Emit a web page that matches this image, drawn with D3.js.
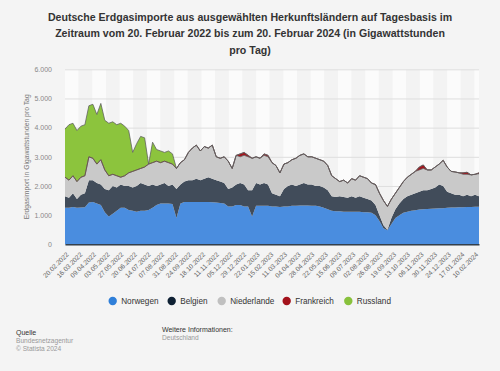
<!DOCTYPE html>
<html><head><meta charset="utf-8">
<script src="https://cdn.jsdelivr.net/npm/d3@7"></script>
<style>
body{margin:0;background:#f4f4f4;}
svg{display:block;font-family:"Liberation Sans",Arial,Helvetica,sans-serif;}
</style>
</head><body>
<svg id="chart" width="500" height="371"></svg>
<script>
// ---------- data ----------
const titleLines = [
  "Deutsche Erdgasimporte aus ausgewählten Herkunftsländern auf Tagesbasis im",
  "Zeitraum vom 20. Februar 2022 bis zum 20. Februar 2024 (in Gigawattstunden",
  "pro Tag)"
];
const seriesNames = ["Norwegen", "Belgien", "Niederlande", "Frankreich", "Russland"];
const startDate = [2022, 1, 20];      // 20.02.2022, weekly samples
const endDate = [2024, 1, 19];
const sampleStepDays = 7;
const tickStepDays = 24;
const yTicks = [0, 1000, 2000, 3000, 4000, 5000, 6000];

const norwegen = [1250,1250,1280,1250,1260,1270,1430,1450,1400,1350,1100,950,1050,1150,1250,1250,1180,1150,1120,1150,1150,1180,1250,1350,1400,1400,1400,1380,900,1400,1450,1450,1450,1450,1450,1450,1450,1440,1430,1420,1400,1300,1300,1350,1350,1300,1300,950,1320,1320,1320,1320,1300,1300,1280,1300,1300,1320,1320,1330,1330,1330,1320,1320,1300,1250,1200,1150,1130,1130,1120,1120,1120,1120,1120,1100,1100,1080,1000,800,550,480,700,900,1000,1080,1120,1150,1170,1190,1200,1210,1220,1230,1235,1240,1250,1260,1260,1270,1270,1280,1280,1290,1290];
const belgien = [400,350,470,300,440,480,770,750,700,700,800,900,950,800,800,750,820,800,880,950,900,820,800,650,650,700,600,670,1000,650,700,750,750,800,750,800,850,810,770,730,700,600,650,700,750,750,550,900,780,730,780,730,450,400,370,600,700,730,680,720,770,720,730,680,700,700,650,500,490,520,500,480,530,480,530,500,450,420,350,200,100,20,200,300,400,470,530,550,580,610,650,640,680,720,815,760,550,490,440,430,380,420,370,410,360];
const niederlande = [650,600,600,600,600,600,800,750,650,850,650,500,400,400,250,350,450,550,550,500,600,750,750,850,750,750,800,700,700,750,750,950,1100,1150,1000,1100,1000,1150,800,800,900,950,650,1000,900,1000,1150,1100,900,900,950,950,1050,1000,800,850,800,850,950,1000,1000,950,950,950,900,900,850,700,630,500,580,500,600,600,700,700,700,600,700,750,850,800,650,550,550,600,650,700,750,750,750,700,650,700,700,880,850,750,780,750,750,700,730,700,770];
const frankreich = [0,0,0,0,0,0,0,0,0,0,0,0,0,0,0,0,0,0,0,0,0,0,0,0,0,0,0,0,0,0,0,0,0,0,0,0,0,0,0,0,0,0,0,0,100,100,50,0,0,0,50,50,0,0,0,0,0,0,0,0,0,0,0,0,0,0,0,0,0,0,0,0,0,0,0,0,0,0,0,0,0,0,0,0,0,0,0,0,0,100,120,0,0,0,0,0,0,0,0,0,50,70,0,0,30];
const russland = [1650,1900,1800,1750,1750,1750,1750,1850,1700,1930,1700,1800,1800,1750,1850,1700,1450,650,900,1100,1000,0,700,400,400,300,400,350,0,0,0,0,0,0,0,0,0,0,0,0,0,0,0,0,0,0,0,0,0,0,0,0,0,0,0,0,0,0,0,0,0,0,0,0,0,0,0,0,0,0,0,0,0,0,0,0,0,0,0,0,0,0,0,0,0,0,0,0,0,0,0,0,0,0,0,0,0,0,0,0,0,0,0,0,0];

const areaColors = ["#4a8ddf", "#414c5a", "#c9c9c9", "#a3161e", "#8cc43d"];
const legendColors = ["#2f7fd9", "#0e2033", "#c0c0c0", "#a3121b", "#88c13c"];

// ---------- build ----------
const dates = d3.timeDay.range(new Date(...startDate), new Date(...endDate), sampleStepDays);
const cols = [norwegen, belgien, niederlande, frankreich, russland];
const table = dates.map((d, i) => {
  const o = {date: d};
  seriesNames.forEach((k, j) => o[k] = cols[j][i]);
  return o;
});

const svg = d3.select("#chart");
const W = 500, H = 371;
const m = {left: 65, right: 21, top: 69.3, bottom: 126.7};
const x = d3.scaleTime().domain([dates[0], dates[dates.length - 1]]).range([m.left, W - m.right]);
const y = d3.scaleLinear().domain([0, 6000]).range([H - m.bottom, m.top]);

const de = d3.formatLocale({decimal: ",", thousands: ".", grouping: [3], currency: ["", " €"]});
const fmtY = de.format(",");
const fmtDate = d3.timeFormat("%d.%m.%Y");

// title
const title = svg.append("text").attr("text-anchor", "middle")
  .attr("font-weight", "bold").attr("font-size", 10.6).attr("fill", "#333");
titleLines.forEach((t, i) => title.append("tspan").attr("x", 250).attr("y", 21 + i * 16.3).text(t));

// background stripes
const tickDates = d3.timeDay.range(new Date(...startDate), new Date(...endDate), tickStepDays);
const bandEdges = tickDates.concat([dates[dates.length - 1]]);
svg.append("g").selectAll("rect").data(d3.range(bandEdges.length - 1)).join("rect")
  .attr("x", i => x(bandEdges[i]))
  .attr("width", i => x(bandEdges[i + 1]) - x(bandEdges[i]))
  .attr("y", y(6000)).attr("height", y(0) - y(6000))
  .attr("fill", i => i % 2 === 0 ? "#fbfbfb" : "#f3f3f3");

// grid + y labels
const yAxis = d3.axisLeft(y).tickValues(yTicks).tickFormat(fmtY).tickSize(-(W - m.right - m.left)).tickPadding(13);
const gy = svg.append("g").attr("transform", `translate(${m.left},0)`).call(yAxis);
gy.select(".domain").remove();
gy.selectAll(".tick line").attr("stroke", "#dedede").attr("stroke-width", 1);
gy.selectAll(".tick text").attr("fill", "#888").attr("font-size", 7).attr("font-family", "Liberation Sans, Arial, sans-serif");

// y title
svg.append("text").attr("transform", `translate(29,${(y(0) + y(6000)) / 2}) rotate(-90)`)
  .attr("text-anchor", "middle").attr("font-size", 6.8).attr("fill", "#777")
  .text("Erdgasimport in Gigawattstunden pro Tag");

// stacked areas
const stack = d3.stack().keys(seriesNames);
const layers = stack(table);
const area = d3.area().x(d => x(d.data.date)).y0(d => y(d[0])).y1(d => y(d[1])).curve(d3.curveLinear);
const line = d3.line().x(d => x(d.data.date)).y(d => y(d[1]));
const gA = svg.append("g");
gA.selectAll("path.a").data(layers).join("path").attr("class", "a")
  .attr("d", area).attr("fill", (d, i) => areaColors[i]);
// top outlines
[2, 3, 4].forEach(i => {
  gA.append("path").attr("d", line(layers[i])).attr("fill", "none")
    .attr("stroke", i === 3 ? "#6b4a4c" : "#5d5d5d").attr("stroke-width", 0.9).attr("stroke-opacity", 0.85);
});

// x axis
const xAxis = d3.axisBottom(x).tickValues(tickDates).tickFormat(fmtDate).tickSize(0).tickPadding(0);
const gx = svg.append("g").attr("transform", `translate(0,${y(0)})`).call(xAxis);
gx.select(".domain").attr("stroke", "#34404c").attr("stroke-width", 1.6);
gx.selectAll(".tick text").attr("fill", "#666").attr("font-size", 6.6)
  .attr("font-family", "Liberation Sans, Arial, sans-serif")
  .attr("text-anchor", "end").attr("dy", "0.35em")
  .attr("transform", "translate(2,9) rotate(-45)");

// legend
const legendX = [112.7, 171.7, 221.7, 286.7, 348.3];
const lg = svg.append("g");
seriesNames.forEach((k, i) => {
  lg.append("circle").attr("cx", legendX[i]).attr("cy", 301).attr("r", 4.2).attr("fill", legendColors[i]);
  lg.append("text").attr("x", legendX[i] + 8.5).attr("y", 304).attr("font-size", 8.2).attr("fill", "#333").text(k);
});

// footer
const ft = svg.append("g").attr("font-size", 6.6);
ft.append("text").attr("x", 16).attr("y", 334.5).attr("fill", "#333").attr("font-size", 7).text("Quelle");
ft.append("text").attr("x", 16).attr("y", 343).attr("fill", "#999").text("Bundesnetzagentur");
ft.append("text").attr("x", 16).attr("y", 350.7).attr("fill", "#999").text("© Statista 2024");
ft.append("text").attr("x", 162).attr("y", 332).attr("fill", "#333").attr("font-size", 7).text("Weitere Informationen:");
ft.append("text").attr("x", 162).attr("y", 340).attr("fill", "#999").text("Deutschland");
</script>
</body></html>
